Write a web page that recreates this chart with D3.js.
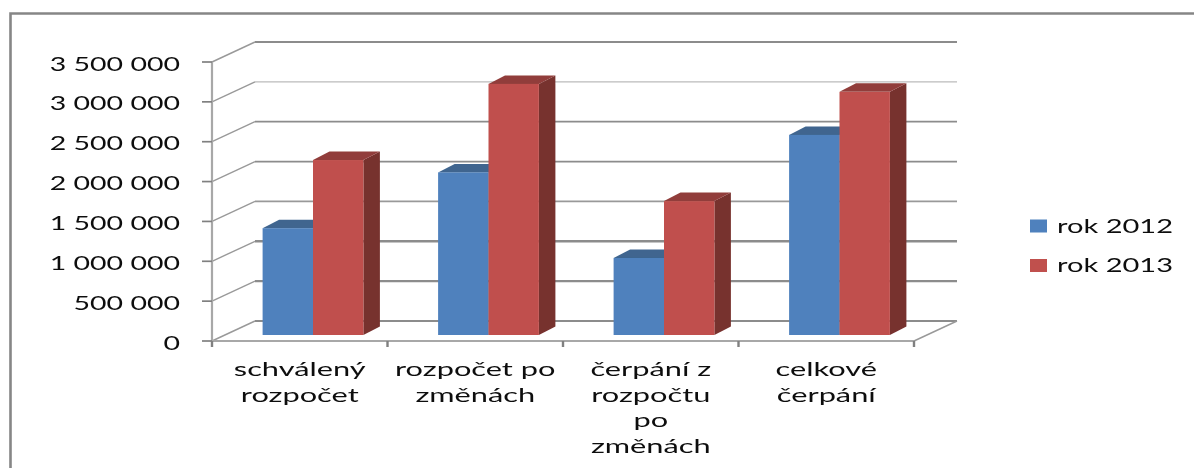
<!DOCTYPE html>
<meta charset="utf-8">
<style>
  html, body { margin: 0; background: #fff; }
  svg { display: block; }
  text { font-family: "Lato", sans-serif; fill: #111; }
</style>
<body>
<script src="https://cdn.jsdelivr.net/npm/d3@7"></script>
<script>
const categories = [
  ["schválený", "rozpočet"],
  ["rozpočet po", "změnách"],
  ["čerpání z", "rozpočtu", "po", "změnách"],
  ["celkové", "čerpání"]
];
const seriesNames = ["rok 2012", "rok 2013"];
const values2012 = [1340000, 2040000, 966000, 2510000];
const values2013 = [2195000, 3150000, 1680000, 3050000];
const yTicks = [0, 500000, 1000000, 1500000, 2000000, 2500000, 3000000, 3500000];
const yTickLabels = ["0", "500 000", "1 000 000", "1 500 000", "2 000 000", "2 500 000", "3 000 000", "3 500 000"];

const colors = ["#4f81bd", "#c0504d"];
const tops = ["#3f658f", "#913e3b"];
const sides = ["#36587f", "#77302e"];

const width = 1194, height = 468;
const svg = d3.select("body").append("svg").attr("width", width).attr("height", height);

// the reference is a blurry upscaled image, so everything gets a soft edge
const defs = svg.append("defs");
defs.append("filter").attr("id", "soft").append("feGaussianBlur").attr("stdDeviation", 0.35);

const x = d3.scaleBand().domain(d3.range(4)).range([212, 914]);
const y = d3.scaleLinear().domain([0, 3500000]).range([341, 62]);

// depth of the floor / back wall
const dx = 43, dy = -20;
// bars stand a bit in front of the back wall
const barY = -6, barDx = 16.5, barDy = -8.5;

// outer frame, open on the right
svg.append("path")
  .attr("d", "M10.5,468V13.5H1194")
  .attr("fill", "none").attr("stroke", "#868686").attr("stroke-width", 2.6);

// back wall gridlines, resampling made some thicker or paler than others
const gridWidths = [2, 2.4, 2.6, 1.8, 1.8, 1.8, 1.4, 2.2];
const gridColors = ["#8c8c8c", "#8c8c8c", "#8c8c8c", "#999", "#8c8c8c", "#8c8c8c", "#bbb", "#8c8c8c"];
const gridG = svg.append("g").attr("filter", "url(#soft)");
yTicks.forEach((t, i) => {
  gridG.append("path")
    .attr("d", `M${x.range()[0] + dx},${y(t) + dy}H${x.range()[1] + dx}`)
    .attr("fill", "none").attr("stroke", gridColors[i]).attr("stroke-width", gridWidths[i]);
  gridG.append("path")
    .attr("d", `M${x.range()[0]},${y(t)}L${x.range()[0] + dx},${y(t) + dy}`)
    .attr("fill", "none").attr("stroke", "#999").attr("stroke-width", 1.4);
});
gridG.append("path")
  .attr("d", `M${x.range()[1]},${y(0)}L${x.range()[1] + dx},${y(0) + dy}`)
  .attr("fill", "none").attr("stroke", "#999").attr("stroke-width", 1.4);

// axes
const axisG = svg.append("g").attr("filter", "url(#soft)");
axisG.append("path")
  .attr("d", `M212,${y(3500000)}V${y(0)}H914`)
  .attr("fill", "none").attr("stroke", "#a8a8a8").attr("stroke-width", 2.2);
axisG.selectAll(".ytick").data(yTicks).enter().append("line")
  .attr("x1", 202).attr("x2", 212)
  .attr("y1", d => y(d)).attr("y2", d => y(d))
  .attr("stroke", "#808080").attr("stroke-width", 1.7);
axisG.selectAll(".xtick").data(d3.range(5)).enter().append("line")
  .attr("x1", d => 212 + d * x.step()).attr("x2", d => 212 + d * x.step())
  .attr("y1", y(0)).attr("y2", y(0) + 6)
  .attr("stroke", "#808080").attr("stroke-width", 2.4);

// bars, blue first so the red front overlaps the blue top
const barW = 50.4, barOff = 50.6;
[values2012, values2013].forEach((vals, s) => {
  const g = svg.append("g").attr("filter", "url(#soft)");
  vals.forEach((v, i) => {
    const x0 = x(i) + barOff + s * barW;
    const x1 = x0 + barW;
    const yb = y(0) + barY, yt = y(v) + barY;
    g.append("path").attr("fill", sides[s])
      .attr("d", `M${x1},${yb}L${x1 + barDx},${yb + barDy}V${yt + barDy}L${x1},${yt}Z`);
    g.append("path").attr("fill", tops[s])
      .attr("d", `M${x0},${yt}L${x0 + barDx},${yt + barDy}H${x1 + barDx}L${x1},${yt}Z`);
    g.append("rect").attr("fill", colors[s])
      .attr("x", x0).attr("y", yt).attr("width", barW).attr("height", yb - yt);
  });
});

// text is stretched horizontally in the reference
function wideText(px, py, str, anchor, stretch) {
  return svg.append("text")
    .attr("transform", `translate(${px},${py}) scale(${stretch},1)`)
    .attr("text-anchor", anchor)
    .attr("font-size", 19)
    .attr("filter", "url(#soft)")
    .text(str);
}

yTicks.forEach((t, i) => wideText(180, y(t) + 8.5, yTickLabels[i], "end", 1.5));

categories.forEach((lines, i) => {
  lines.forEach((l, j) => {
    wideText(x(i) + x.bandwidth() / 2, 376 + j * 25.5, l, "middle", 1.62);
  });
});

seriesNames.forEach((name, i) => {
  const ly = 226 + i * 39.5;
  svg.append("rect").attr("x", 1030).attr("y", ly - 6.5).attr("width", 17).attr("height", 13).attr("fill", colors[i]);
  wideText(1057, ly + 6.5, name, "start", 1.53);
});
</script>
</body>
